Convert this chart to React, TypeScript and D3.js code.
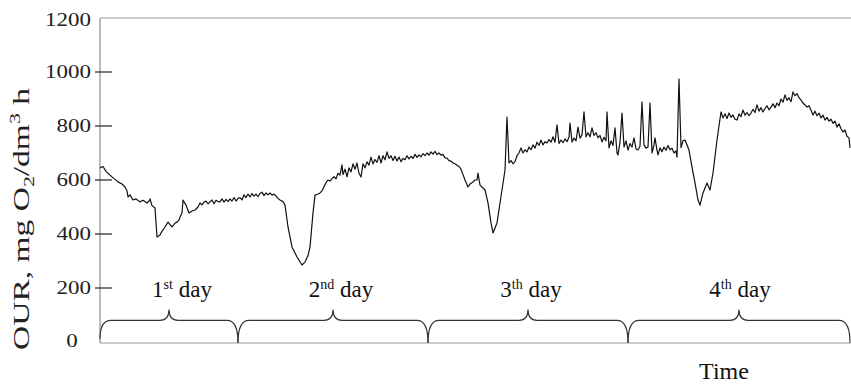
import React from "react";
import * as d3 from "d3";

// time axis in arbitrary units (0 .. 750 over the 4 days)
const TIME = [
  0, 3, 6, 10, 14, 18, 22, 25, 27, 28, 30, 33, 36, 40, 43, 47, 49, 50, 52, 55,
  57, 60, 62, 65, 68, 70, 72, 75, 77, 79, 80, 82, 83, 86, 89, 92, 95, 98,
  100, 102, 104, 106, 108, 110, 112, 114, 116, 118, 120, 122, 124, 126, 128, 130, 132, 134, 136, 138,
  140, 142, 144, 146, 148, 150, 152, 154, 156, 158, 160, 162, 164, 166, 168, 170, 172, 174, 176, 178, 180,
  183, 185, 188, 192, 197, 202, 205, 208, 210, 213,
  215, 218, 220, 222, 224, 226, 228, 230, 232, 234, 236, 238, 240, 242, 243, 245, 247, 249, 251, 253, 255, 257, 259, 261,
  263, 265, 267, 269, 271, 273, 275, 277, 279, 281, 283, 285, 287, 289, 291, 293, 295, 297, 299, 301,
  303, 305, 307, 309, 311, 313, 315, 317, 319, 321, 323, 325, 327, 329, 331, 333, 335, 337, 339, 341,
  343, 345, 347, 349, 351, 353, 355, 357, 359, 361,
  363, 365, 368, 370, 373, 375, 377, 378, 380, 385, 388, 391, 393, 397, 402, 405, 407,
  409, 411, 413, 415, 417, 419, 421, 423, 425, 427, 429, 431, 433, 435, 437, 439, 441, 443, 445, 447,
  449, 451, 453, 455, 457, 459, 461, 463, 465, 467, 469, 470, 472, 474, 476, 478, 480, 482, 484, 486,
  488, 490, 492, 494, 496, 498, 500, 502, 504, 506, 507, 509, 511, 513, 515, 517, 518, 520, 522, 524,
  526, 528, 530, 532, 534, 536, 538, 540, 542, 544, 546, 548, 550, 552, 554, 555, 557, 558, 560, 562,
  564, 566, 568, 570, 572, 574, 576, 577, 579, 581, 583, 585, 587, 589,
  592, 595, 598, 600, 603, 607, 610, 613,
  617, 619, 621, 623, 625, 627, 629, 631, 633, 635, 637, 639, 641, 643, 645, 647, 649, 651, 653, 655,
  657, 659, 661, 663, 665, 667, 669, 671, 673, 675, 677, 679, 681, 683, 685, 687, 689, 691, 693, 695,
  697, 699, 701, 703, 705, 707, 709, 711, 713, 715, 717, 719, 721, 723, 725, 727, 729, 731, 733, 735,
  737, 739, 741, 743, 745, 747, 749, 750,
];

// oxygen uptake rate, mg O2/dm3 h
const OUR = [
  645, 650, 632, 618, 605, 593, 585, 574, 560, 537, 545, 526, 530, 519, 525, 515, 522, 530, 505, 496,
  389, 396, 410, 426, 444, 435, 426, 440, 444, 452, 463, 478, 526, 507, 478, 485, 489, 500,
  515, 508, 518, 522, 512, 519, 526, 512, 525, 520, 519, 530, 518, 528, 520, 530, 522, 535, 522, 532,
  535, 526, 545, 535, 548, 537, 550, 540, 548, 538, 550, 555, 542, 552, 545, 552, 544, 548, 540, 532, 526,
  520, 507, 426, 352, 315, 285, 296, 320, 352, 478,
  544, 548, 552, 560, 575, 590, 600, 596, 605, 612, 604, 625, 618, 656, 620, 640, 612, 645, 630, 660, 640, 663, 625, 611,
  660, 645, 667, 655, 685, 660, 676, 665, 690, 663, 690, 675, 704, 680, 690, 672, 688, 670, 685, 668,
  680, 675, 690, 678, 688, 680, 695, 684, 693, 686, 698, 690, 700, 692, 704, 696, 706, 694, 700, 692,
  695, 682, 681, 672, 670, 663, 660, 655, 650, 640,
  620, 600, 574, 585, 593, 600, 600, 626, 581, 563, 515, 441, 404, 441, 563, 637, 833,
  663, 672, 660, 668, 690, 700, 719, 700, 712, 704, 722, 712, 730, 718, 740, 728, 748, 730, 742, 737,
  750, 740, 760, 740, 804, 735, 748, 738, 752, 742, 758, 811, 741, 755, 745, 796, 755, 767, 852, 760,
  775, 760, 793, 765, 775, 756, 765, 741, 758, 745, 852, 719, 745, 728, 793, 700, 693, 740, 848, 722,
  745, 711, 735, 722, 756, 715, 711, 725, 889, 730, 718, 722, 885, 700, 730, 756, 710, 693, 719, 705,
  722, 710, 728, 712, 718, 700, 708, 685, 974, 720, 745, 748, 730, 711,
  648, 589, 526, 507, 552, 589, 563, 626,
  748, 800, 852, 830, 845, 828, 848, 832, 841, 825, 822, 845, 835, 859, 840, 850, 838, 848, 862, 850,
  878, 855, 868, 852, 865, 875, 860, 870, 882, 868, 885, 875, 900, 888, 915, 895, 905, 890, 926, 912,
  920, 905, 896, 885, 878, 870, 875, 858, 841, 855, 838, 848, 830, 840, 822, 832, 818, 825, 810, 818,
  796, 808, 790, 778, 785, 762, 756, 719,
];

const Y_TICKS = [0, 200, 400, 600, 800, 1000, 1200];
const Y_TICK_LABELS = ["0", "200", "400", "600", "800", "1000", "1200"];

const DAY_BOUNDS = [0, 138, 328, 528, 750];
const DAY_NUMS = ["1", "2", "3", "4"];
const DAY_SUPS = ["st", "nd", "th", "th"];
const DAY_LABEL_POS = [82, 241, 431, 640];

const FONT = "'Liberation Serif', 'DejaVu Serif', serif";

export default function App() {
  const W = 851;
  const H = 384;
  const x = d3.scaleLinear().domain([0, 750]).range([100, 850]);
  const y = d3.scaleLinear().domain([0, 1200]).range([342, 18]);

  const n = Math.min(TIME.length, OUR.length);
  const pts: [number, number][] = TIME.slice(0, n).map((t, i) => [t, OUR[i]]);
  const line = d3
    .line<[number, number]>()
    .x((d) => x(d[0]))
    .y((d) => y(d[1]))
    .curve(d3.curveLinear);

  const braceTop = y(80);
  const braceTip = y(120);
  const braceBottom = y(-3);

  const bracePath = (t0: number, t1: number, first: boolean) => {
    const x0 = x(t0);
    const x1 = x(t1);
    const cx = (x0 + x1) / 2;
    const r = 11;
    const r2 = 9;
    const startY = first ? braceBottom - 4 : braceBottom;
    return (
      `M${x0},${startY} Q${x0},${braceTop} ${x0 + r},${braceTop} ` +
      `L${cx - r2},${braceTop} Q${cx},${braceTop} ${cx},${braceTip} ` +
      `Q${cx},${braceTop} ${cx + r2},${braceTop} ` +
      `L${x1 - r},${braceTop} Q${x1},${braceTop} ${x1},${braceBottom}`
    );
  };

  return (
    <svg
      width={W}
      height={H}
      style={{ position: "absolute", left: 0, top: 0, background: "#fff" }}
    >
      <rect width={W} height={H} fill="#fff" />
      {/* frame */}
      <line x1={x(0)} x2={x(0)} y1={y(1200)} y2={y(0) + 1} stroke="#777" strokeWidth={1} />
      <line x1={x(0)} x2={W} y1={y(1200)} y2={y(1200)} stroke="#999" strokeWidth={1} />
      <line x1={x(0)} x2={W} y1={y(0) + 1} y2={y(0) + 1} stroke="#999" strokeWidth={1} />

      {/* y ticks */}
      {Y_TICKS.map((v, i) => (
        <g key={v}>
          {v > 0 && v < 1200 && (
            <line x1={x(0) - 5} x2={x(0) + 12} y1={y(v)} y2={y(v)} stroke="#222" strokeWidth={1.2} />
          )}
          <text
            x={v === 0 ? 72 : 91}
            y={y(v) + (v === 0 ? 5 : v === 1200 ? 8 : 6)}
            textAnchor={v === 0 ? "middle" : "end"}
            fontFamily={FONT}
            fontSize={19}
            fill="#222"
            textLength={11.5 * Y_TICK_LABELS[i].length}
            lengthAdjust="spacingAndGlyphs"
          >
            {Y_TICK_LABELS[i]}
          </text>
        </g>
      ))}

      {/* y axis title */}
      <text
        transform={`translate(29,219) rotate(-90)`}
        textAnchor="middle"
        fontFamily={FONT}
        fontSize={23}
        fill="#222"
        textLength={262}
        lengthAdjust="spacingAndGlyphs"
      >
        OUR, mg O<tspan fontSize={15} dy={5}>2</tspan>
        <tspan dy={-5}>/dm</tspan>
        <tspan fontSize={15} dy={-9}>3</tspan>
        <tspan dy={9}> h</tspan>
      </text>

      {/* data line */}
      <path d={line(pts) || ""} fill="none" stroke="#111" strokeWidth={1.2} strokeLinejoin="round" />

      {/* day braces */}
      {DAY_NUMS.map((d, i) => (
        <g key={d}>
          <path
            d={bracePath(DAY_BOUNDS[i], DAY_BOUNDS[i + 1], i === 0)}
            fill="none"
            stroke="#333"
            strokeWidth={1.2}
          />
          <text
            x={x(DAY_LABEL_POS[i])}
            y={y(168)}
            textAnchor="middle"
            fontFamily={FONT}
            fontSize={23}
            fill="#111"
          >
            {d}
            <tspan fontSize={14} dy={-8}>
              {DAY_SUPS[i]}
            </tspan>
            <tspan dy={8}> day</tspan>
          </text>
        </g>
      ))}

      {/* x axis title */}
      <text x={724} y={379} textAnchor="middle" fontFamily={FONT} fontSize={24} fill="#111">
        Time
      </text>
    </svg>
  );
}
